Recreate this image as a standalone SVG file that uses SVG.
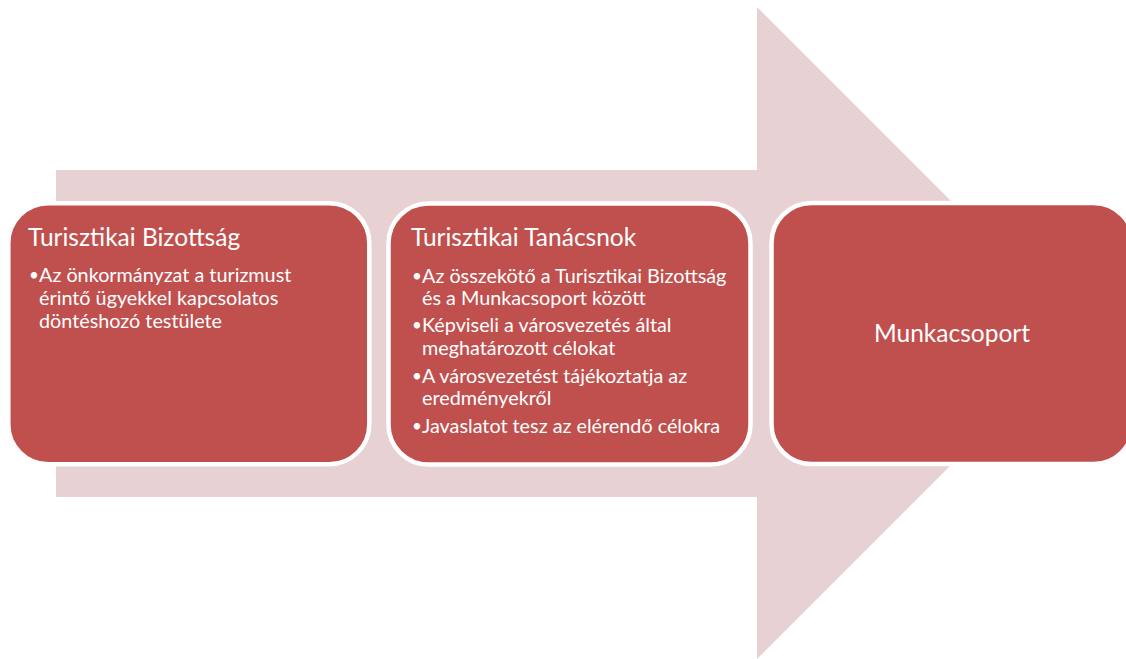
<svg xmlns="http://www.w3.org/2000/svg" width="1126" height="659" viewBox="0 0 1126 659">
<style>
.box{fill:#C0504D;stroke:#FFFFFF;stroke-width:4.5}
.t{font-family:Lato,"Open Sans","Liberation Sans",sans-serif;fill:#FFFFFF}
.h{font-size:24.5px}
.b{font-size:19.8px}
.d{font-size:17px}
</style>
<rect width="1126" height="659" fill="#FFFFFF"/>
<g id="arrow">
<polygon points="56,170 757,170 757,7 1083,333 757,659 757,497 56,497" fill="#E7D1D2"/>
</g>
<g id="connectors"></g>
<g id="node1">
<rect class="box" x="8.3" y="203.2" width="361" height="261" rx="40" ry="40"/>
<text class="t h" x="28" y="246">Turisztikai Bizottság</text>
<text class="t d" x="29" y="281">•</text>
<text class="t b" x="39" y="282">Az önkormányzat a turizmust</text>
<text class="t b" x="39" y="305">érintő ügyekkel kapcsolatos</text>
<text class="t b" x="39" y="328">döntéshozó testülete</text>
</g>
<g id="node2">
<rect class="box" x="388.5" y="203.5" width="362" height="261" rx="40" ry="40"/>
<text class="t h" x="411" y="246">Turisztikai Tanácsnok</text>
<text class="t d" x="412" y="282">•</text>
<text class="t b" x="422" y="283">Az összekötő a Turisztikai Bizottság</text>
<text class="t b" x="422" y="305">és a Munkacsoport között</text>
<text class="t d" x="412" y="331">•</text>
<text class="t b" x="422" y="332">Képviseli a városvezetés által</text>
<text class="t b" x="422" y="355">meghatározott célokat</text>
<text class="t d" x="412" y="382">•</text>
<text class="t b" x="422" y="383">A városvezetést tájékoztatja az</text>
<text class="t b" x="422" y="405">eredményekről</text>
<text class="t d" x="412" y="432">•</text>
<text class="t b" x="422" y="433">Javaslatot tesz az elérendő célokra</text>
</g>
<g id="node3">
<rect class="box" x="771.5" y="203" width="362" height="261" rx="40" ry="40"/>
<text class="t h" x="952" y="342" text-anchor="middle">Munkacsoport</text>
</g>
</svg>
